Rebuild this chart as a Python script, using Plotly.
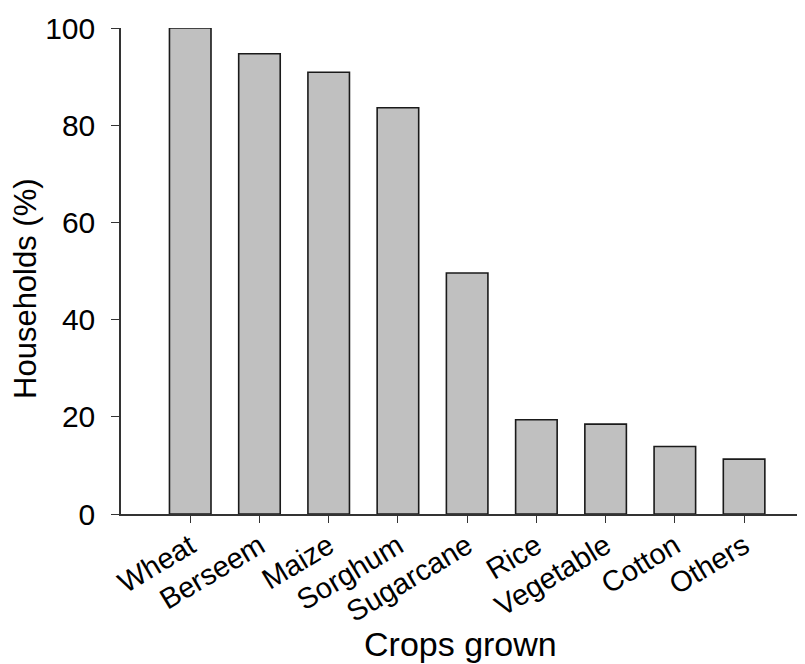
import plotly.graph_objects as go

crops = ["Wheat", "Berseem", "Maize", "Sorghum", "Sugarcane", "Rice", "Vegetable", "Cotton", "Others"]
households_pct = [100, 94.7, 90.9, 83.6, 49.6, 19.4, 18.5, 13.9, 11.3]
y_ticks = [0, 20, 40, 60, 80, 100]

font_family = "Liberation Sans, Arial, sans-serif"

fig = go.Figure(
    go.Bar(
        x=list(range(len(crops))),
        y=households_pct,
        width=0.6,
        marker=dict(color="#c0c0c0", line=dict(color="#1a1a1a", width=1.6)),
    )
)

# page body has an 8px default margin, so margins are offset by 8px
fig.update_layout(
    width=805,
    height=664,
    paper_bgcolor="white",
    plot_bgcolor="white",
    margin=dict(l=113, r=8, t=20, b=158, autoexpand=False),
    showlegend=False,
    font=dict(family=font_family, color="black"),
    annotations=[
        dict(
            text="Crops grown", xref="paper", yref="paper", x=0.497, y=-0.2665,
            xanchor="center", yanchor="middle", showarrow=False,
            font=dict(size=34, family=font_family, color="black"),
        ),
        dict(
            text="Households (%)", xref="paper", yref="paper", x=-0.1404, y=0.465,
            xanchor="center", yanchor="middle", showarrow=False, textangle=-90,
            font=dict(size=31, family=font_family, color="black"),
        ),
    ],
)

fig.update_xaxes(
    range=[-1, 8.88],
    tickmode="array",
    tickvals=list(range(len(crops))),
    ticktext=crops,
    tickangle=-31,
    ticks="outside",
    ticklen=7,
    tickwidth=1.3,
    tickcolor="#333",
    showline=True,
    linecolor="#333",
    linewidth=1.5,
    showgrid=False,
    zeroline=False,
    automargin=False,
    tickfont=dict(size=29, family=font_family, color="black"),
    ticklabelstandoff=-5,
)

fig.update_yaxes(
    range=[0, 100],
    tickmode="array",
    tickvals=y_ticks,
    ticks="outside",
    ticklen=8,
    tickwidth=1.3,
    tickcolor="#333",
    showline=True,
    linecolor="#333",
    linewidth=1.5,
    showgrid=False,
    zeroline=False,
    automargin=False,
    tickfont=dict(size=30, family=font_family, color="black"),
    ticklabelstandoff=10,
)

fig.write_html("out.html")
